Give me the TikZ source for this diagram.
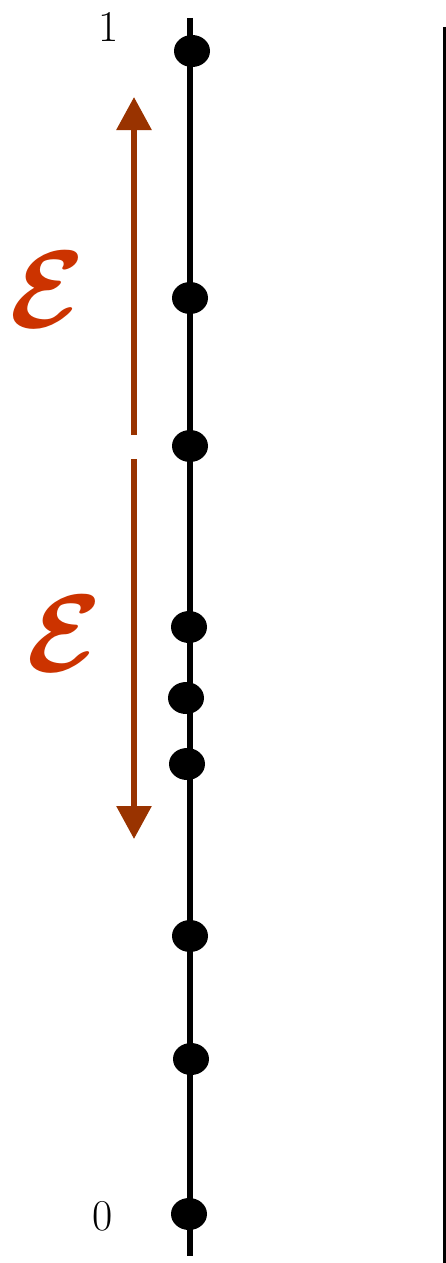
\documentclass[tikz,border=0pt]{standalone}
\usepackage{graphicx}
\usepackage{amsmath,bm}
\usetikzlibrary{arrows.meta,shapes.geometric}
\definecolor{arrowbrown}{HTML}{993300}
\definecolor{epsred}{HTML}{CC3300}
\newcommand{\bigeps}{\scalebox{11}{$\boldsymbol{\mathcal{E}}$}}
\begin{document}
\begin{tikzpicture}[x=1pt,y=-1pt,
  dot/.style={ellipse,fill=black,inner sep=0pt,minimum width=36pt,minimum height=32pt},
  axis/.style={line width=6pt,black},
  rightbar/.style={line width=3pt,black},
  epsarrow/.style={line width=6pt,arrowbrown,-{Triangle[width=34pt,length=33pt]}},
  numlabel/.style={font=\fontsize{44}{48}\selectfont,inner sep=0pt},
  epslabel/.style={text=epsred,inner sep=0pt}]
\useasboundingbox (0,0) rectangle (446,1263);
\coordinate (atop) at (190,18);
\coordinate (abot) at (190,1256);
\draw[axis] (atop) -- (abot);
\coordinate (rtop) at (444.5,27);
\coordinate (rbot) at (444.5,1263);
\draw[rightbar] (rtop) -- (rbot);
\node[dot] (d1) at (192,51) {};
\node[dot] (d2) at (190,298) {};
\node[dot] (d3) at (190,446) {};
\node[dot] (d4) at (189,627) {};
\node[dot] (d5) at (186,698) {};
\node[dot] (d6) at (187,764) {};
\node[dot] (d7) at (190,936) {};
\node[dot] (d8) at (191,1059) {};
\node[dot] (d9) at (189,1214) {};
\node[numlabel] (l1) at (109,27) {1};
\node[numlabel] (l0) at (103,1216) {0};
\coordinate (u0) at (134,435);
\coordinate (u1) at (134,97);
\draw[epsarrow] (u0) -- (u1);
\coordinate (w0) at (134,459);
\coordinate (w1) at (134,839);
\draw[epsarrow] (w0) -- (w1);
\node[epslabel] (e1) at (47,290) {\bigeps};
\node[epslabel] (e2) at (64,634) {\bigeps};
\end{tikzpicture}
\end{document}
